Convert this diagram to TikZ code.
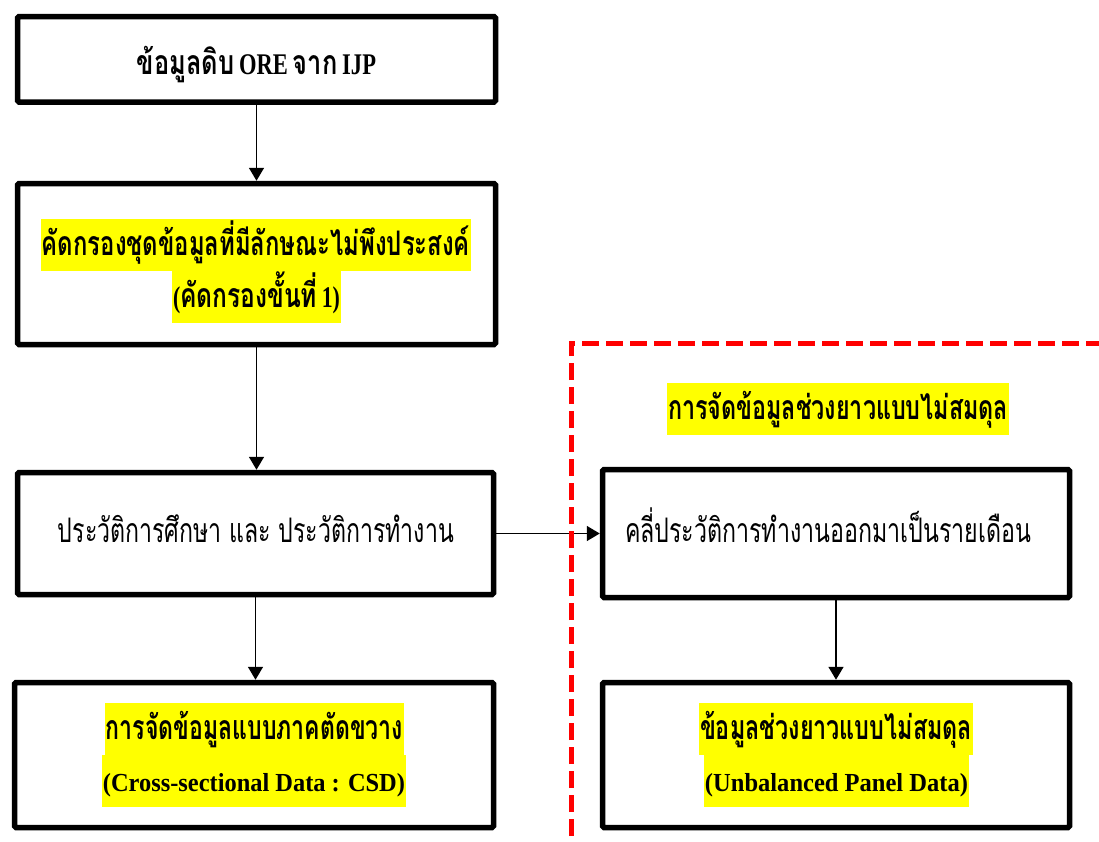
\documentclass[tikz,border=0pt]{standalone}
\usepackage{fontspec}
\usepackage{graphicx}
\setmainfont{Liberation Serif}
\newfontfamily\thai[Script=Thai,Scale=1.3]{Loma}
\usetikzlibrary{arrows.meta}
\definecolor{hl}{RGB}{255,255,0}
\definecolor{dashred}{RGB}{255,0,0}
\newcommand{\fitline}[2]{\resizebox{#1}{\height}{#2}}
\newcommand{\latbig}[1]{{\fontsize{30}{30}\selectfont #1}}
\begin{document}
\begin{tikzpicture}[x=1pt,y=-1pt,
  box/.style={draw, line width=5.5pt, rounded corners=1.5pt, inner sep=0pt, fill=white},
  arr/.style={line width=1.6pt, -{Triangle[length=13pt,width=15pt]}},
  txt/.style={inner xsep=1pt, inner ysep=0pt, text height=36pt, text depth=16pt,
              font=\fontsize{26}{30}\selectfont},
  hltxt/.style={txt, fill=hl},
  groupline/.style={draw=dashred, line width=5pt, dash pattern=on 17pt off 7pt}]
\useasboundingbox (0,0) rectangle (1099,841);
% boxes
\node[box, minimum width=478pt, minimum height=85.5pt] (b1) at (256.5,59.3) {};
\node[box, minimum width=478pt, minimum height=161pt] (b2) at (256.5,264) {};
\node[box, minimum width=476pt, minimum height=122pt] (b3) at (255.5,533.5) {};
\node[box, minimum width=479pt, minimum height=145pt] (b4) at (254,755) {};
\node[box, minimum width=467pt, minimum height=128pt] (b5) at (836,533.5) {};
\node[box, minimum width=467pt, minimum height=145pt] (b6) at (836,755) {};
% connectors
\draw[arr] (b1.south) -- (b2.north);
\draw[arr] (b2.south) -- (b2.south |- b3.north);
\draw[arr] (b3.south) -- (b3.south |- b4.north);
\draw[arr] (b3.east) -- (b5.west);
\draw[arr] (b5.south) -- (b6.north);
% group boundary
\coordinate (gb) at (571,860);
\coordinate (gc) at (571,343);
\coordinate (gr) at (1120,343);
\draw[groupline] (gb) -- (gc) -- (gr);
% texts
\node[txt] (t1) at (256.5,64) {\fitline{239pt}{\bfseries{\thai ข้อมูลดิบ} \latbig{ORE} {\thai จาก} \latbig{IJP}}};
\node[hltxt] (t2a) at (256,245) {\fitline{428pt}{\bfseries\thai คัดกรองชุดข้อมูลที่มีลักษณะไม่พึงประสงค์}};
\node[hltxt] (t2b) at (256.5,297) {\fitline{167pt}{\bfseries\latbig{(}{\thai คัดกรองขั้นที่} \latbig{1)}}};
\node[txt] (t3) at (256,532) {\fitline{396pt}{\thai ประวัติการศึกษา และ ประวัติการทำงาน}};
\node[hltxt] (t4a) at (254.5,729) {\fitline{297pt}{\bfseries\thai การจัดข้อมูลแบบภาคตัดขวาง}};
\node[hltxt] (t4b) at (254,781) {\fitline{302pt}{\bfseries (Cross-sectional Data : CSD)}};
\node[txt] (t5) at (828,532) {\fitline{406pt}{\thai คลี่ประวัติการทำงานออกมาเป็นรายเดือน}};
\node[hltxt] (t6a) at (836,729) {\fitline{272pt}{\bfseries\thai ข้อมูลช่วงยาวแบบไม่สมดุล}};
\node[hltxt] (t6b) at (836.5,781) {\fitline{263pt}{\bfseries (Unbalanced Panel Data)}};
\node[hltxt] (title) at (838,409) {\fitline{340pt}{\bfseries\thai การจัดข้อมูลช่วงยาวแบบไม่สมดุล}};
\end{tikzpicture}
\end{document}
